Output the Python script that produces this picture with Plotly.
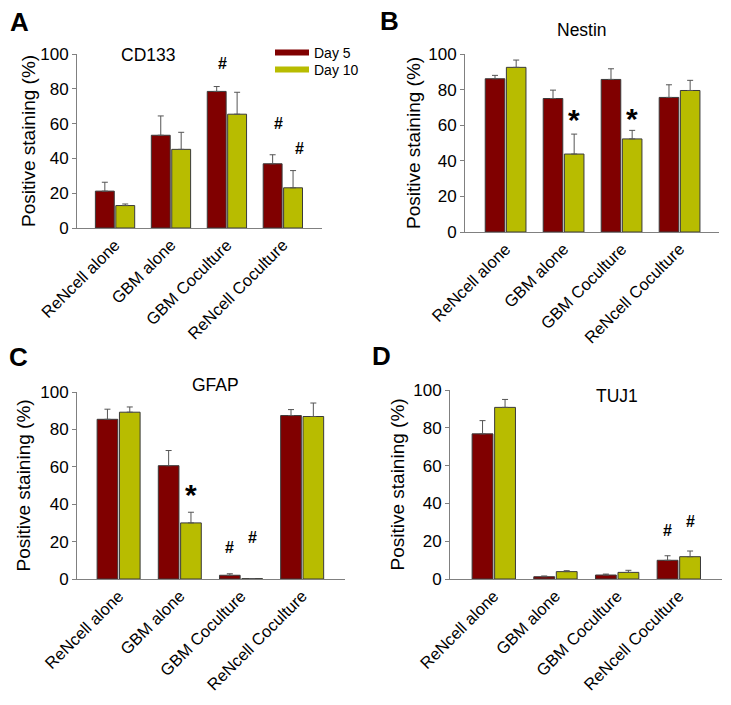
import plotly.graph_objects as go

# ---------------- data ----------------
categories = ["ReNcell alone", "GBM alone", "GBM Coculture", "ReNcell Coculture"]
series_names = ["Day 5", "Day 10"]
y_ticks = [0, 20, 40, 60, 80, 100]

cd133_day5 = [21.2, 53.3, 78.5, 36.9]
cd133_day5_err = [5.1, 11.1, 2.8, 5.2]
cd133_day10 = [12.9, 45.2, 65.4, 23.1]
cd133_day10_err = [0.9, 9.8, 12.6, 9.9]

nestin_day5 = [86.1, 75.0, 85.7, 75.6]
nestin_day5_err = [1.9, 4.7, 6.0, 7.1]
nestin_day10 = [92.5, 43.8, 52.3, 79.5]
nestin_day10_err = [4.1, 11.2, 4.8, 5.7]

gfap_day5 = [85.4, 60.6, 2.0, 87.4]
gfap_day5_err = [5.4, 8.1, 0.8, 3.2]
gfap_day10 = [89.2, 30.0, 0.2, 86.9]
gfap_day10_err = [2.8, 5.7, 0.0, 7.2]

tuj1_day5 = [76.8, 1.2, 2.1, 9.9]
tuj1_day5_err = [7.0, 0.4, 0.5, 2.4]
tuj1_day10 = [90.8, 3.9, 3.5, 11.8]
tuj1_day10_err = [4.2, 0.5, 1.1, 3.0]

# significance marks: (symbol, category index, series index, height)
cd133_marks = [("#", 2, 0, 94.8), ("#", 3, 0, 60.0), ("#", 3, 1, 45.8)]
nestin_marks = [("*", 1, 1, 63.0), ("*", 2, 1, 64.0)]
gfap_marks = [("*", 1, 1, 45.0), ("#", 2, 0, 17.0), ("#", 2, 1, 22.4)]
tuj1_marks = [("#", 3, 0, 25.7), ("#", 3, 1, 30.5)]

# ---------------- style / layout ----------------
W, H = 731, 705
FONT = "Liberation Sans, Arial, sans-serif"
COL5 = "#800000"
COL10 = "#b8bc00"
AXCOL = "#808080"
BARGAP = 0.27
GROUPGAP = 0.075

panels = [
    dict(letter="A", title="CD133", v=[cd133_day5, cd133_day10], e=[cd133_day5_err, cd133_day10_err],
         marks=cd133_marks, x0=77, x1=322, ytop=54, ybot=228, xr=[-0.68, 3.70],
         tpos=(0.59, 0.996), ytx=28, lpos=(19, 22.5), mshift=6),
    dict(letter="B", title="Nestin", v=[nestin_day5, nestin_day10], e=[nestin_day5_err, nestin_day10_err],
         marks=nestin_marks, x0=465, x1=719, ytop=54, ybot=232, xr=[-0.70, 3.68],
         tpos=(1.32, 1.137), ytx=413, lpos=(389, 21.5), mshift=0),
    dict(letter="C", title="GFAP", v=[gfap_day5, gfap_day10], e=[gfap_day5_err, gfap_day10_err],
         marks=gfap_marks, x0=77, x1=345, ytop=392, ybot=579, xr=[-0.68, 3.70],
         tpos=(1.58, 1.036), ytx=23, lpos=(18.5, 356.5), mshift=0),
    dict(letter="D", title="TUJ1", v=[tuj1_day5, tuj1_day10], e=[tuj1_day5_err, tuj1_day10_err],
         marks=tuj1_marks, x0=450, x1=722, ytop=390, ybot=579, xr=[-0.71, 3.70],
         tpos=(1.99, 0.968), ytx=397, lpos=(381, 356), mshift=0),
]

fig = go.Figure()
annotations = []
layout_axes = {}
colors = [COL5, COL10]
slot = (1 - BARGAP) / 2.0
offsets = [-slot / 2.0, slot / 2.0]

for i, p in enumerate(panels):
    n = "" if i == 0 else str(i + 1)
    xa, ya = "x" + n, "y" + n
    for s in range(2):
        fig.add_trace(go.Bar(
            x=categories, y=p["v"][s], name=series_names[s],
            marker=dict(color=colors[s], line=dict(color="#3a3a3a", width=1)),
            error_y=dict(type="data", symmetric=False, array=p["e"][s],
                         arrayminus=[0] * len(categories), color="#555555",
                         thickness=1, width=3),
            offsetgroup=str(s), showlegend=False, xaxis=xa, yaxis=ya,
        ))
    layout_axes["xaxis" + n] = dict(
        domain=[p["x0"] / W, p["x1"] / W], anchor=ya, type="category",
        categoryorder="array", categoryarray=categories, range=p["xr"],
        showline=True, linecolor=AXCOL, linewidth=1, ticks="", showgrid=False,
        zeroline=False, tickangle=-45, automargin=False,
        tickfont=dict(family=FONT, size=16.5, color="black"),
    )
    layout_axes["yaxis" + n] = dict(
        domain=[1 - p["ybot"] / H, 1 - p["ytop"] / H], anchor=xa, range=[0, 100],
        tickvals=y_ticks, showline=True, linecolor=AXCOL, linewidth=1,
        ticks="outside", ticklen=4, tickcolor=AXCOL, tickwidth=1, showgrid=False,
        zeroline=False, automargin=False,
        tickfont=dict(family=FONT, size=17, color="black"),
    )
    # subplot title
    annotations.append(dict(text=p["title"], x=p["tpos"][0], y=p["tpos"][1], xref=xa, yref=ya + " domain",
                            showarrow=False, font=dict(family=FONT, size=17.5, color="black"),
                            xanchor="center", yanchor="middle"))
    # y axis title
    annotations.append(dict(text="Positive staining (%)", x=p["ytx"] / W, y=0.5, xref="paper",
                            yref=ya + " domain", textangle=-90, showarrow=False,
                            font=dict(family=FONT, size=19, color="black"),
                            xanchor="center", yanchor="middle"))
    # panel letter
    annotations.append(dict(text="<b>" + p["letter"] + "</b>", x=p["lpos"][0] / W, y=1 - p["lpos"][1] / H,
                            xref="paper", yref="paper", showarrow=False,
                            font=dict(family=FONT, size=26, color="black"),
                            xanchor="center", yanchor="middle"))
    # significance marks
    for sym, g, s, h in p["marks"]:
        size = 30 if sym == "*" else 16
        annotations.append(dict(text="<b>" + sym + "</b>", x=g + offsets[s], y=h, xref=xa, yref=ya,
                                xshift=p["mshift"], showarrow=False,
                                font=dict(family=FONT, size=size, color="black"),
                                xanchor="center", yanchor="middle"))

# legend entries (panel A)
fig.add_trace(go.Scatter(x=[None], y=[None], mode="lines", name=series_names[0],
                         line=dict(color=COL5, width=6), legend="legend", xaxis="x", yaxis="y"))
fig.add_trace(go.Scatter(x=[None], y=[None], mode="lines", name=series_names[1],
                         line=dict(color=COL10, width=6), legend="legend2", xaxis="x", yaxis="y"))

leg_common = dict(xanchor="left", yanchor="middle", bgcolor="rgba(0,0,0,0)", borderwidth=0,
                  itemwidth=34, font=dict(family=FONT, size=14, color="black"))

fig.update_layout(
    width=W, height=H, margin=dict(l=0, r=0, t=0, b=0),
    paper_bgcolor="white", plot_bgcolor="white",
    barmode="group", bargap=BARGAP, bargroupgap=GROUPGAP,
    showlegend=True,
    legend=dict(x=270 / W, y=1 - 53 / H, **leg_common),
    legend2=dict(x=270 / W, y=1 - 70 / H, **leg_common),
    annotations=annotations,
    font=dict(family=FONT, color="black"),
    **layout_axes,
)

fig.write_html("out.html", config={"displayModeBar": False},
               post_script="document.body.style.margin='0';document.body.style.padding='0';")
